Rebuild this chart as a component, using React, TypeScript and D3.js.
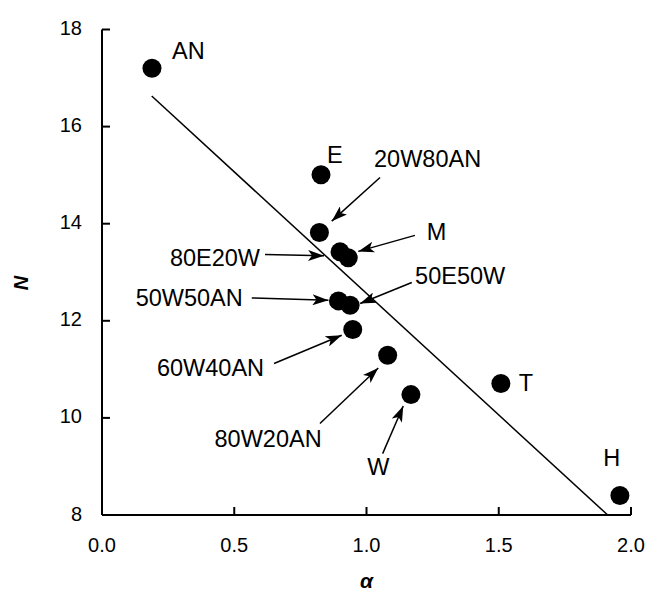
import React from "react";
import * as d3 from "d3";

// ---- data ----
const pointLabels = ["AN", "E", "20W80AN", "80E20W", "M", "50W50AN", "50E50W", "60W40AN", "80W20AN", "W", "T", "H"];
const alphaValues = [0.189, 0.828, 0.822, 0.9, 0.931, 0.894, 0.938, 0.948, 1.08, 1.168, 1.508, 1.958];
const nValues = [17.2, 15.01, 13.82, 13.42, 13.3, 12.41, 12.32, 11.82, 11.29, 10.48, 10.71, 8.4];
const fitIntercept = 17.57;
const fitSlope = -5.006;
const fitRange = [0.188, 1.912];
const xTicks = [0, 0.5, 1.0, 1.5, 2.0];
const yTicks = [8, 10, 12, 14, 16, 18];

// ---- annotation layout (pixel offsets relative to each point) ----
type Ann = { lx: number; ly: number; anchor: string; arrow?: [number, number, number, number] };
const annLayout: Ann[] = [
  { lx: 20, ly: -9.3, anchor: "start" },
  { lx: 6, ly: -12, anchor: "start" },
  { lx: 54.6, ly: -65.3, anchor: "start", arrow: [60.6, -55, 12.3, -11.3] },
  { lx: -80, ly: 13.8, anchor: "end", arrow: [-75, 2.6, -16, 4] },
  { lx: 78.4, ly: -17.3, anchor: "start", arrow: [66.7, -22.3, 10, -6.3] },
  { lx: -95.7, ly: 4.8, anchor: "end", arrow: [-86.7, -3, -10, -0.7] },
  { lx: 65, ly: -21, anchor: "start", arrow: [61.7, -22.7, 10, -1.7] },
  { lx: -88.7, ly: 46.7, anchor: "end", arrow: [-78.7, 34, -11, 5.7] },
  { lx: -66, ly: 92, anchor: "end", arrow: [-67.7, 68.3, -9.4, 12.7] },
  { lx: -43.7, ly: 80.7, anchor: "start", arrow: [-28.3, 59, -7.7, 11.4] },
  { lx: 18, ly: 7.7, anchor: "start" },
  { lx: -16.7, ly: -30, anchor: "start" },
];

const W = 650;
const H = 595;
const font = "'Liberation Sans', Arial, sans-serif";

export default function App() {
  const x = d3.scaleLinear().domain([0, 2]).range([102, 631]);
  const y = d3.scaleLinear().domain([8, 18]).range([515, 29.5]);
  const fitLine = d3.line<number>().x((a) => x(a)).y((a) => y(fitIntercept + fitSlope * a));

  return (
    <svg width={W} height={H} style={{ position: "absolute", left: 0, top: 0, background: "#fff" }}>
      <defs>
        <marker id="arr" markerUnits="userSpaceOnUse" markerWidth={16} markerHeight={11} refX={16} refY={5.5} orient="auto" viewBox="0 0 16 11">
          <path d="M0,0 L16,5.5 L0,11 L4,5.5 Z" fill="#000" />
        </marker>
      </defs>
      {/* axes */}
      <line x1={x(0)} x2={x(0)} y1={y(18)} y2={y(8)} stroke="#000" strokeWidth={2} />
      <line x1={x(0)} x2={x(2)} y1={y(8)} y2={y(8)} stroke="#000" strokeWidth={2} />
      {yTicks.map((t) => (
        <g key={"y" + t}>
          <line x1={x(0)} x2={x(0) + 8} y1={y(t)} y2={y(t)} stroke="#000" strokeWidth={2} />
          <text x={x(0) - 20} y={y(t) + 5.5} textAnchor="end" fontFamily={font} fontSize={20}>
            {t}
          </text>
        </g>
      ))}
      {xTicks.map((t) => (
        <g key={"x" + t}>
          <line x1={x(t)} x2={x(t)} y1={y(8)} y2={y(8) - 8} stroke="#000" strokeWidth={2} />
          <text x={x(t)} y={552} textAnchor="middle" fontFamily={font} fontSize={20}>
            {t.toFixed(1)}
          </text>
        </g>
      ))}
      <text x={x(1)} y={588} textAnchor="middle" fontFamily={font} fontSize={21} fontWeight="bold" fontStyle="italic">
        α
      </text>
      <text transform="translate(28,283) rotate(-90)" textAnchor="middle" fontFamily={font} fontSize={20} fontWeight="bold" fontStyle="italic">
        N
      </text>
      {/* fit line */}
      <path d={fitLine(fitRange) || ""} stroke="#000" strokeWidth={1.5} fill="none" />
      {/* points */}
      {alphaValues.map((a, i) => (
        <circle key={"p" + i} cx={x(a)} cy={y(nValues[i])} r={9.5} fill="#000" />
      ))}
      {/* annotations */}
      {pointLabels.map((lab, i) => {
        const px = x(alphaValues[i]);
        const py = y(nValues[i]);
        const L = annLayout[i];
        return (
          <g key={"a" + i}>
            {L.arrow && (
              <line
                x1={px + L.arrow[0]}
                y1={py + L.arrow[1]}
                x2={px + L.arrow[2]}
                y2={py + L.arrow[3]}
                stroke="#000"
                strokeWidth={1.5}
                markerEnd="url(#arr)"
              />
            )}
            <text x={px + L.lx} y={py + L.ly} textAnchor={L.anchor} fontFamily={font} fontSize={23.5}>
              {lab}
            </text>
          </g>
        );
      })}
    </svg>
  );
}
